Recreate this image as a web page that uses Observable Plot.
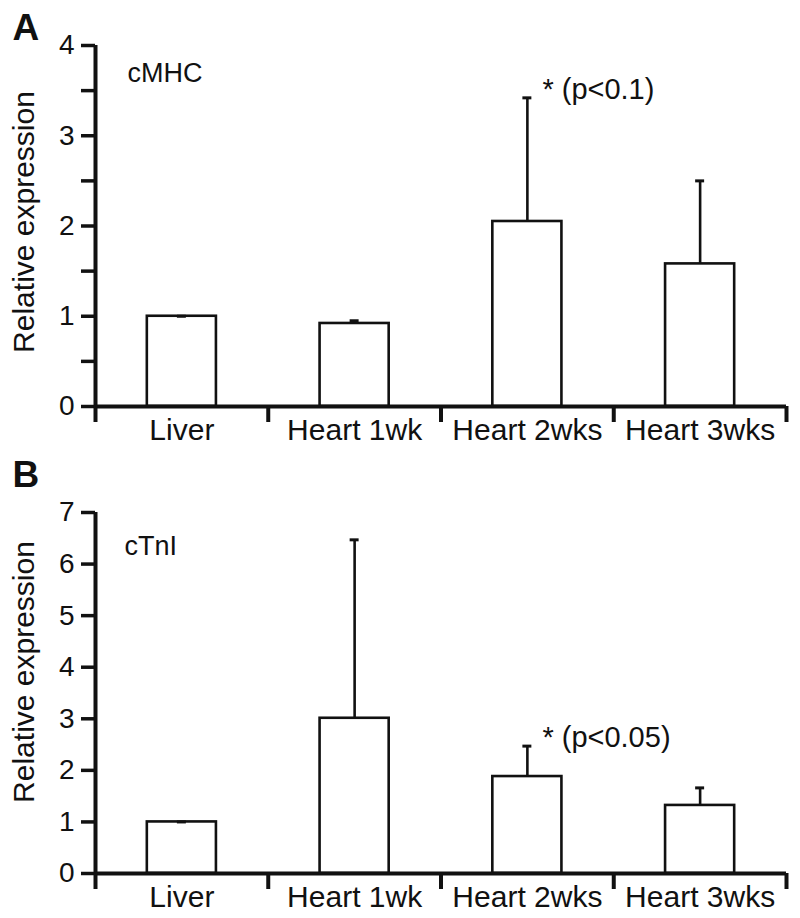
<!DOCTYPE html>
<html>
<head>
<meta charset="utf-8">
<script src="https://cdn.jsdelivr.net/npm/d3@7"></script>
<script src="https://cdn.jsdelivr.net/npm/@observablehq/plot@0.6"></script>
<style>
  html, body { margin: 0; padding: 0; background: #fff; }
  svg { display: block; }
</style>
</head>
<body>
<div id="chart"></div>
<script>
// ---- data ----
const categories = ["Liver", "Heart 1wk", "Heart 2wks", "Heart 3wks"];

const cmhcMean = [1.00, 0.92, 2.05, 1.58];
const cmhcErr  = [0.00, 0.03, 1.37, 0.92];

const ctniMean = [1.00, 3.01, 1.88, 1.32];
const ctniErr  = [0.00, 3.46, 0.59, 0.34];

const yTicksA = [0, 1, 2, 3, 4];
const yMinorA = [0.5, 1.5, 2.5, 3.5];
const yTicksB = [0, 1, 2, 3, 4, 5, 6, 7];

const noteA = "* (p<0.1)";
const noteB = "* (p<0.05)";
const noteIndexA = 2;
const noteIndexB = 2;

// ---- drawing ----
const FONT = "'Liberation Sans', Arial, Helvetica, sans-serif";
const INK = "#111";

function panel({letter, gene, means, errs, yMax, yTicks, yMinor, note, noteIndex,
                height, marginTop, marginBottom, letterDy, geneDx, geneDy, labelDy}) {
  const rows = categories.map((c, i) => ({cat: c, i, mean: means[i], err: errs[i], top: means[i] + errs[i]}));
  const noteRows = [{i: noteIndex, top: rows[noteIndex].top, text: note}];
  const edges = d3.range(categories.length + 1);
  const centers = categories.map((c, i) => i + 0.5);
  const marks = [
    Plot.rect(rows, {x1: d => d.i + 0.3, x2: d => d.i + 0.7, y1: 0, y2: "mean",
                     fill: "#fff", stroke: INK, strokeWidth: 2.6}),
    Plot.ruleX(rows, {x: d => d.i + 0.5, y1: "mean", y2: "top", stroke: INK, strokeWidth: 2.6}),
    Plot.ruleY(rows, {y: "top", x1: d => d.i + 0.474, x2: d => d.i + 0.526, stroke: INK, strokeWidth: 3}),
    Plot.ruleY([0], {stroke: INK, strokeWidth: 4}),
    Plot.ruleX([0], {stroke: INK, strokeWidth: 4}),
    Plot.axisY({ticks: yTicks, tickSize: 14, tickPadding: 7, fontSize: 28, strokeWidth: 3.5, label: null,
                tickFormat: d3.format("d")}),
    Plot.axisX({ticks: edges, tickSize: 16, tickFormat: () => "", strokeWidth: 4, label: null}),
    Plot.axisX({ticks: centers, tickSize: 0, tickPadding: 12, fontSize: 30, label: null,
                tickFormat: d => categories[Math.floor(d)]}),
    Plot.text([gene], {frameAnchor: "top-left", dx: geneDx, dy: geneDy, textAnchor: "start",
                       lineAnchor: "top", fontSize: 27, fill: INK}),
    Plot.text([letter], {frameAnchor: "top-left", dx: -83, dy: letterDy, textAnchor: "start",
                         lineAnchor: "top", fontSize: 37, fontWeight: "bold", fill: INK}),
    Plot.text(["Relative expression"], {frameAnchor: "left", rotate: -90, dx: -83, dy: labelDy,
                                        textAnchor: "middle", lineAnchor: "top", fontSize: 30, fill: INK}),
    Plot.text(noteRows, {x: d => d.i + 0.5, y: "top", text: "text", textAnchor: "start",
                         dx: 15, dy: -8, lineAnchor: "middle", fontSize: 29, fill: INK})
  ];
  if (yMinor) {
    marks.push(Plot.axisY({ticks: yMinor, tickSize: 14, tickFormat: () => "", strokeWidth: 3.5, label: null}));
  }
  return Plot.plot({
    width: 800, height, marginLeft: 95, marginRight: 14, marginTop, marginBottom,
    style: {fontFamily: FONT, background: "#fff", color: INK, overflow: "visible"},
    x: {domain: [0, categories.length]},
    y: {domain: [0, yMax]},
    marks
  });
}

const root = document.getElementById("chart");
root.append(panel({
  letter: "A", gene: "cMHC", means: cmhcMean, errs: cmhcErr, yMax: 4,
  yTicks: yTicksA, yMinor: yMinorA, note: noteA, noteIndex: noteIndexA,
  height: 450, marginTop: 45, marginBottom: 44, letterDy: -32, geneDx: 32, geneDy: 17, labelDy: -4
}));
root.append(panel({
  letter: "B", gene: "cTnI", means: ctniMean, errs: ctniErr, yMax: 7,
  yTicks: yTicksB, yMinor: null, note: noteB, noteIndex: noteIndexB,
  height: 468, marginTop: 62, marginBottom: 45, letterDy: -52, geneDx: 29, geneDy: 23, labelDy: -21
}));
</script>
</body>
</html>
